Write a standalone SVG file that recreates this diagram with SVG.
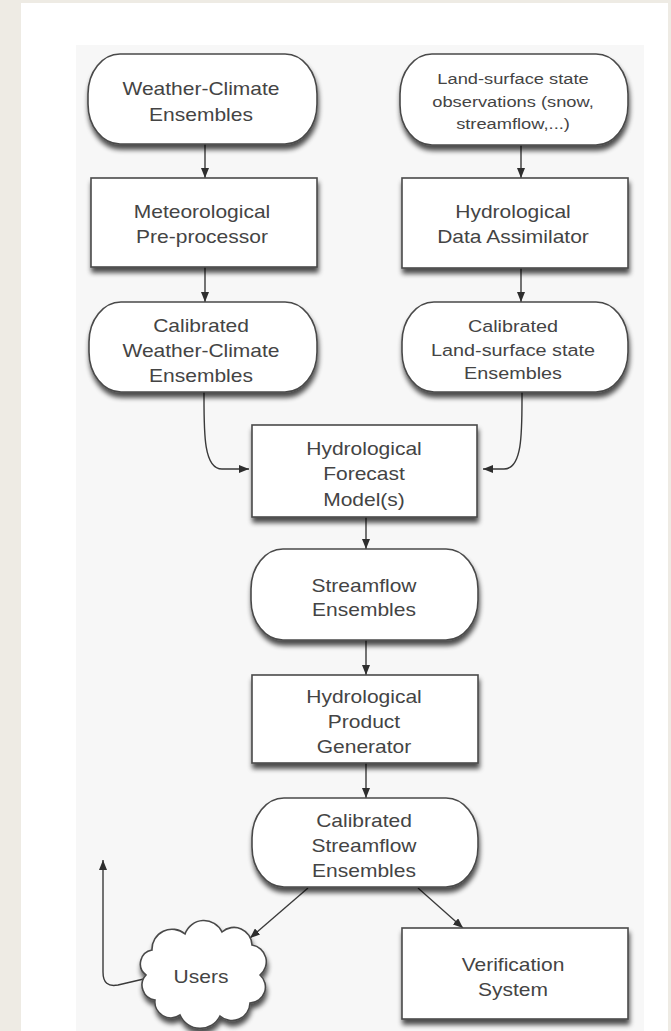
<svg xmlns="http://www.w3.org/2000/svg" width="671" height="1031" viewBox="0 0 671 1031">
<style>
.n{fill:#ffffff;stroke:#4a4a4a;stroke-width:1.6;filter:url(#sh)}
.t{font-family:"Liberation Sans",Arial,sans-serif;font-size:17.5px;fill:#444444;text-anchor:middle}
.s{font-size:15.5px}
.m{font-size:16.5px}
.c{fill:none;stroke:#3a3a3a;stroke-width:1.4}
.a{marker-end:url(#ah)}
</style>
<defs>
<filter id="sh" x="-10%" y="-10%" width="125%" height="145%">
<feGaussianBlur in="SourceAlpha" stdDeviation="2.5"/>
<feOffset dx="1" dy="5" result="o"/>
<feComponentTransfer><feFuncA type="linear" slope="0.7"/></feComponentTransfer>
<feMerge><feMergeNode/><feMergeNode in="SourceGraphic"/></feMerge>
</filter>
<marker id="ah" viewBox="0 0 10 8" refX="10" refY="4" markerWidth="10" markerHeight="8" markerUnits="userSpaceOnUse" orient="auto">
<path d="M0,0 L10,4 L0,8 z" fill="#2e2e2e"/>
</marker>
</defs>
<rect x="0" y="0" width="671" height="1031" fill="#eeebe4"/>
<rect x="21" y="3" width="647" height="1028" fill="#ffffff"/>
<rect x="76" y="45" width="568" height="986" fill="#f7f7f7"/>

<g id="connectors">
<path class="c a" d="M205,144 L205,178"/>
<path class="c a" d="M521,145 L521,178"/>
<path class="c a" d="M205,267 L205,302"/>
<path class="c a" d="M521,268 L521,302"/>
<path class="c a" d="M204,392 C204,430 203,469 222,469 L249,469"/>
<path class="c a" d="M522,392 C522,430 523,469 504,469 L483,469"/>
<path class="c a" d="M366,517 L366,549"/>
<path class="c a" d="M366,640 L366,675"/>
<path class="c a" d="M366,763 L366,798"/>
<path class="c a" d="M308,888 L250,938"/>
<path class="c a" d="M418,888 L463,928"/>
<path class="c a" d="M148,978 L118,985 Q103,988 103,972 L103,860"/>
</g>

<g id="weather-climate-ensembles">
<rect class="n" x="88" y="54" width="229" height="90" rx="32" ry="40"/>
<text class="t" transform="translate(201 0) scale(1.2 1)"><tspan x="0" y="95">Weather-Climate</tspan><tspan x="0" y="121">Ensembles</tspan></text>
</g>
<g id="land-surface-observations">
<rect class="n" x="400" y="54" width="228" height="91" rx="32" ry="40"/>
<text class="t s" transform="translate(513 0) scale(1.18 1)"><tspan x="0" y="84">Land-surface state</tspan><tspan x="0" y="107">observations (snow,</tspan><tspan x="0" y="129">streamflow,...)</tspan></text>
</g>
<g id="meteorological-preprocessor">
<rect class="n" x="91" y="178" width="226" height="89"/>
<text class="t" transform="translate(202 0) scale(1.2 1)"><tspan x="0" y="218">Meteorological</tspan><tspan x="0" y="243">Pre-processor</tspan></text>
</g>
<g id="hydrological-data-assimilator">
<rect class="n" x="402" y="178" width="226" height="90"/>
<text class="t" transform="translate(513 0) scale(1.2 1)"><tspan x="0" y="218">Hydrological</tspan><tspan x="0" y="243">Data Assimilator</tspan></text>
</g>
<g id="calibrated-weather-climate-ensembles">
<rect class="n" x="89" y="302" width="228" height="90" rx="32" ry="40"/>
<text class="t" transform="translate(201 0) scale(1.2 1)"><tspan x="0" y="332">Calibrated</tspan><tspan x="0" y="357">Weather-Climate</tspan><tspan x="0" y="382">Ensembles</tspan></text>
</g>
<g id="calibrated-land-surface-ensembles">
<rect class="n" x="402" y="302" width="226" height="90" rx="32" ry="40"/>
<text class="t m" transform="translate(513 0) scale(1.2 1)"><tspan x="0" y="332">Calibrated</tspan><tspan x="0" y="356">Land-surface state</tspan><tspan x="0" y="379">Ensembles</tspan></text>
</g>
<g id="hydrological-forecast-models">
<rect class="n" x="252" y="425" width="225" height="92"/>
<text class="t" transform="translate(364 0) scale(1.2 1)"><tspan x="0" y="455">Hydrological</tspan><tspan x="0" y="480">Forecast</tspan><tspan x="0" y="506">Model(s)</tspan></text>
</g>
<g id="streamflow-ensembles">
<rect class="n" x="251" y="549" width="227" height="91" rx="32" ry="40"/>
<text class="t" transform="translate(364 0) scale(1.2 1)"><tspan x="0" y="592">Streamflow</tspan><tspan x="0" y="616">Ensembles</tspan></text>
</g>
<g id="hydrological-product-generator">
<rect class="n" x="252" y="675" width="226" height="88"/>
<text class="t" transform="translate(364 0) scale(1.2 1)"><tspan x="0" y="703">Hydrological</tspan><tspan x="0" y="728">Product</tspan><tspan x="0" y="753">Generator</tspan></text>
</g>
<g id="calibrated-streamflow-ensembles">
<rect class="n" x="252" y="798" width="226" height="89" rx="32" ry="40"/>
<text class="t" transform="translate(364 0) scale(1.2 1)"><tspan x="0" y="827">Calibrated</tspan><tspan x="0" y="852">Streamflow</tspan><tspan x="0" y="877">Ensembles</tspan></text>
</g>
<g id="users">
<path class="n" d="M152,950 A20,20 0 0 1 185,934 A20,20 0 0 1 222,932 A18,18 0 0 1 252,945 A17,17 0 0 1 260,975 A16,16 0 0 1 250,1003 A18,18 0 0 1 220,1016 A22,22 0 0 1 180,1015 A16,16 0 0 1 155,1000 A15,15 0 0 1 146,975 A14,14 0 0 1 152,950 Z"/>
<text class="t" transform="translate(201 0) scale(1.2 1)" x="0" y="983">Users</text>
</g>
<g id="verification-system">
<rect class="n" x="402" y="928" width="226" height="91"/>
<text class="t" transform="translate(513 0) scale(1.2 1)"><tspan x="0" y="971">Verification</tspan><tspan x="0" y="996">System</tspan></text>
</g>
</svg>
